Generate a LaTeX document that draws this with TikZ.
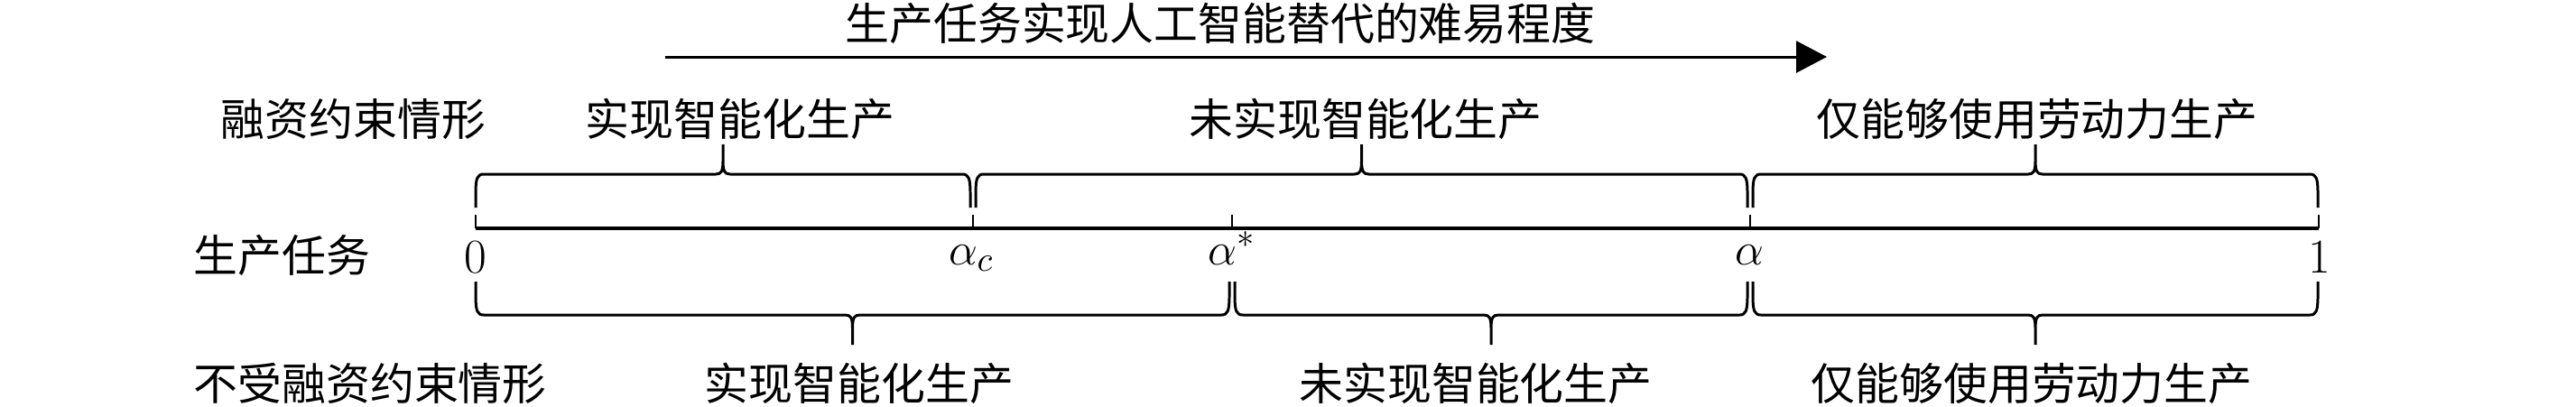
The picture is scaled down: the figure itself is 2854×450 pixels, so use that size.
\documentclass[tikz,border=0pt]{standalone}
\usepackage{fontspec}
\usepackage{amsmath}
\usepackage{tikz}
\usetikzlibrary{arrows.meta,calc,positioning}
\newfontfamily\cjk{Noto Sans CJK SC}
\tikzset{
  wenzi/.style={
    font=\cjk\fontsize{13.9}{16}\selectfont,
    inner sep=0pt
  },
  shuzi/.style={
    font=\fontsize{15.3}{18}\selectfont,
    inner sep=0pt,
    anchor=base
  },
  zhou/.style={
    line width=0.9pt
  },
  kedu/.style={
    line width=0.6pt
  },
  kuo/.style={
    line width=0.85pt,
    line join=round
  },
  jiantou/.style={
    -{Triangle[length=3.4mm,width=3.5mm]},
    line width=0.85pt
  }
}
% brace: left x, right x, base y, direction (-1 up, 1 down)
\newcommand{\kuohao}[4]{%
  \pgfmathsetmacro\km{(#1+#2)/2}
  \draw[kuo] ({#1},{#3}) -- ({#1},{#3+16*(#4)})
    .. controls ({#1},{#3+33*(#4)}) and ({#1+2},{#3+37*(#4)}) .. ({#1+9},{#3+37*(#4)})
    -- ({\km-8},{#3+37*(#4)})
    .. controls ({\km-2},{#3+37*(#4)}) and ({\km},{#3+40*(#4)}) .. ({\km},{#3+52*(#4)})
    -- ({\km},{#3+70*(#4)})
    ({\km},{#3+52*(#4)})
    .. controls ({\km},{#3+40*(#4)}) and ({\km+2},{#3+37*(#4)}) .. ({\km+8},{#3+37*(#4)})
    -- ({#2-9},{#3+37*(#4)})
    .. controls ({#2-2},{#3+37*(#4)}) and ({#2},{#3+33*(#4)}) .. ({#2},{#3+16*(#4)})
    -- ({#2},{#3});}

\begin{document}
\begin{tikzpicture}[x=0.01cm,y=-0.01cm]
\useasboundingbox (0,0) rectangle (2854,450);

% title and arrow
\node[wenzi] (biaoti) at (1352,26) {生产任务实现人工智能替代的难易程度};
\coordinate (jt-a) at (737,63);
\coordinate (jt-b) at (2024,63);
\draw[jiantou] (jt-a) -- (jt-b);

% row names
\node[wenzi, anchor=west] (rz) at (244,132) {融资约束情形};
\node[wenzi, anchor=west] (rw) at (214,283) {生产任务};
\node[wenzi, anchor=west] (brz) at (214,425) {不受融资约束情形};

% axis
\coordinate (t0) at (527,253);
\coordinate (tc) at (1078,253);
\coordinate (ts) at (1365,253);
\coordinate (ta) at (1939,253);
\coordinate (t1) at (2569,253);
\draw[zhou] (t0) -- (t1);
\foreach \t in {t0,tc,ts,ta,t1}
  \draw[kedu] (\t) -- ++(0,-15);

\node[shuzi] (l0) at (527,302) {0};
\node[shuzi] (lc) at (1076,293) {$\alpha_c$};
\node[shuzi] (ls) at (1365,293) {$\alpha^*$};
\node[shuzi] (la) at (1938,293) {$\alpha$};
\node[shuzi] (l1) at (2570,302) {1};

% upper braces
\kuohao{527}{1075}{230}{-1}
\kuohao{1081}{1936}{230}{-1}
\kuohao{1942}{2568}{230}{-1}
\node[wenzi] (s1) at (820,132) {实现智能化生产};
\node[wenzi] (s2) at (1513,132) {未实现智能化生产};
\node[wenzi] (s3) at (2257,132) {仅能够使用劳动力生产};

% lower braces
\kuohao{527}{1362}{312}{1}
\kuohao{1368}{1936}{312}{1}
\kuohao{1942}{2568}{312}{1}
\node[wenzi] (x1) at (952,425) {实现智能化生产};
\node[wenzi] (x2) at (1635,425) {未实现智能化生产};
\node[wenzi] (x3) at (2251,425) {仅能够使用劳动力生产};
\end{tikzpicture}
\end{document}
